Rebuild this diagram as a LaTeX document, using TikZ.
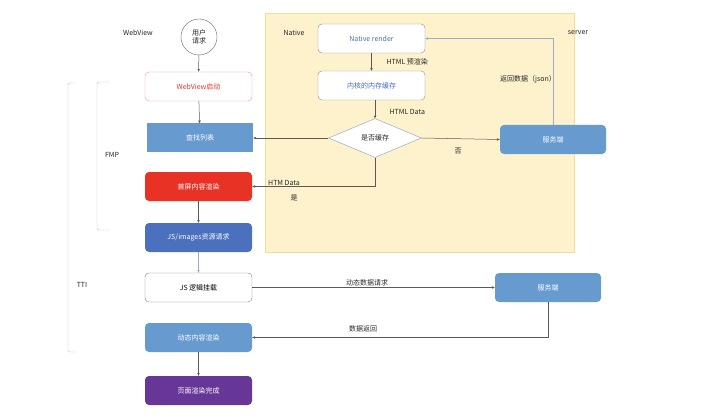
\documentclass[tikz,border=0pt]{standalone}
\usepackage{fontspec}
\setmainfont{Noto Sans CJK SC}
\usetikzlibrary{shapes.geometric,arrows.meta}
\definecolor{srvblue}{RGB}{103,155,207}
\definecolor{fmpred}{RGB}{232,50,38}
\definecolor{resblue}{RGB}{74,112,190}
\definecolor{donepurple}{RGB}{102,55,150}
\definecolor{nativebg}{RGB}{253,242,204}
\definecolor{nativeedge}{RGB}{246,221,150}
\definecolor{brkblue}{RGB}{170,192,232}
\definecolor{txtblue}{RGB}{70,110,190}
\definecolor{pinkedge}{RGB}{240,150,150}

\tikzset{
  box/.style={rounded corners=4pt, minimum width=107pt, minimum height=29pt, inner sep=0pt, font=\fontsize{7}{8}\selectfont},
  lbl/.style={font=\fontsize{7}{8}\selectfont, text=black!85},
  flow/.style={-{Stealth[length=3pt,width=2.6pt]}, draw=black!65, line width=0.5pt}
}

\begin{document}
\begin{tikzpicture}[x=1pt, y=-1pt]
    \useasboundingbox (0,0) rectangle (720,417);
    % native area
    \draw[fill=nativebg, draw=nativeedge] (265,13) rectangle (574,252);
    % brackets
    \draw[brkblue, rounded corners=1.5pt] (76,83) -- (68,83) -- (68,352) -- (76,352);
    \draw[brkblue, rounded corners=1.5pt] (110,82) -- (97,82) -- (97,230) -- (110,230);
    \node[lbl] (tti) at (82,285) {TTI};
    \node[lbl] (fmp) at (112,155) {FMP};
    \node[lbl] (wv) at (138,33) {WebView};
    \node[lbl] (nt) at (294,33) {Native};
    \node[lbl] (sv) at (578,33) {server};

    % webview column
    \node[draw=black!60, circle, minimum size=36pt, inner sep=0pt, align=center, lbl] (req) at (199,37) {用户\\请求};
    \node[box, draw=pinkedge, text=fmpred] (start) at (198.5,86.5) {WebView启动};
    \node[box, rounded corners=0pt, fill=srvblue, text=white, minimum width=106pt] (find) at (200,138) {查找列表};
    \node[box, fill=fmpred, text=white] (first) at (198.5,186.5) {首屏内容渲染};
    \node[box, fill=resblue, text=white] (res) at (198.5,237.5) {JS/images资源请求};
    \node[box, draw=black!50, fill=white, text=black] (logic) at (198.5,287.5) {JS 逻辑挂载};
    \node[box, fill=srvblue, text=white] (dyn) at (198.5,337.5) {动态内容渲染};
    \node[box, fill=donepurple, text=white] (done) at (198.5,390.5) {页面渲染完成};

    % native column
    \node[box, draw=black!45, fill=white, text=txtblue] (nrender) at (371.5,38.5) {Native render};
    \node[box, draw=black!45, fill=white, text=txtblue] (cache) at (371.5,85.5) {内核的内存缓存};
    \node[diamond, draw=brkblue!80!black, fill=white, minimum width=93pt, minimum height=39pt, aspect=2.4, inner sep=0pt, lbl] (dia) at (375,138) {是否缓存};

    % server boxes
    \node[box, fill=srvblue, text=white, minimum width=106pt] (srv1) at (553,139.5) {服务端};
    \node[box, fill=srvblue, text=white, minimum width=106pt] (srv2) at (548,287.5) {服务端};

    % connectors
    \draw[flow] (req) -- (start);
    \draw[flow] (start) -- (find);
    \draw[flow] (first) -- (res);
    \draw[flow, draw=brkblue!90!black] (res) -- (logic);
    \draw[flow] (dyn) -- (done);
    \draw[flow] (nrender) -- (cache);
    \draw[flow] (cache.south -| dia.north) -- (dia.north);
    \draw[flow] (dia.west) -- (find.east);
    \draw[flow] (dia.east) -- (srv1.west);
    \draw[flow] (dia.south) |- (first.east);
    \draw[flow, draw=brkblue!90!black] (srv1.north) |- (nrender.east);
    \draw[flow] (logic.east) -- (srv2.west);
    \draw[flow] (srv2.south) |- (dyn.east);

    % connector labels
    \node[lbl, anchor=west] (l1) at (383,62) {HTML 预渲染};
    \node[lbl, anchor=west] (l2) at (386,112) {HTML Data};
    \node[lbl] (l3) at (458,151) {否};
    \node[lbl] (l4) at (284,183) {HTM Data};
    \node[lbl] (l5) at (294,198) {是};
    \node[lbl] (l6) at (528,79) {返回数据（json）};
    \node[lbl] (l7) at (367,283) {动态数据请求};
    \node[lbl] (l8) at (363,329) {数据返回};
\end{tikzpicture}
\end{document}
